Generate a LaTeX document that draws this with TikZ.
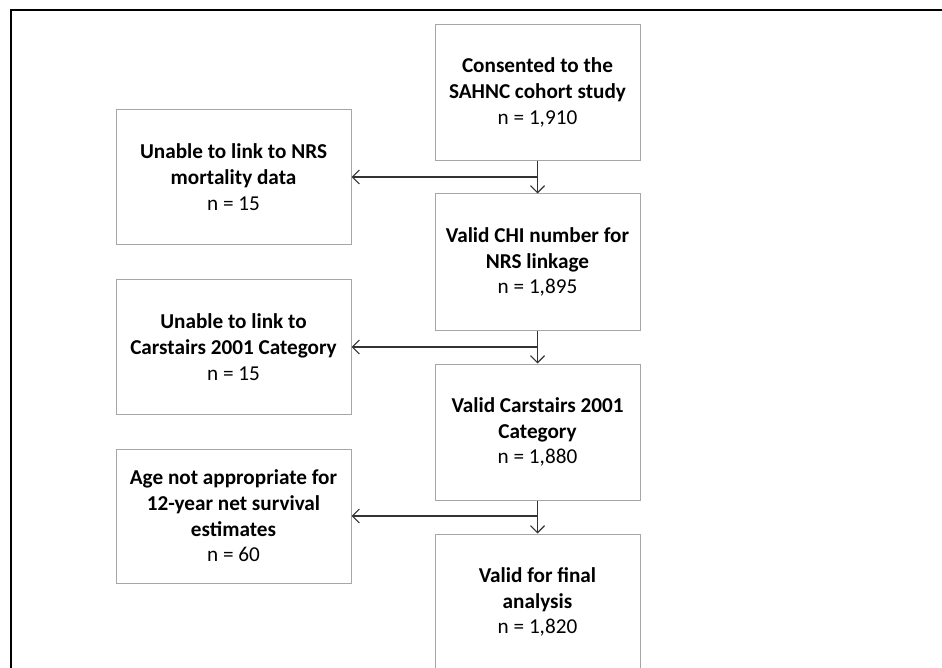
\documentclass[tikz,border=0pt]{standalone}
\usepackage{fontspec}
\setmainfont{Carlito}
\usetikzlibrary{arrows.meta}
\definecolor{boxgray}{HTML}{A6A6A6}
\definecolor{linegray}{HTML}{333333}
\tikzset{
  flowbox/.style={draw=boxgray, line width=1pt, rectangle, align=center,
    inner sep=0pt, font=\fontsize{21.2}{25.7}\selectfont},
  rbox/.style={flowbox, minimum width=205pt, minimum height=136pt},
  lbox/.style={flowbox, minimum width=235pt, minimum height=134pt},
  conn/.style={draw=linegray, line width=1.4pt},
  arr/.style={conn, -{Straight Barb[length=7pt,width=14pt,line width=1.2pt]}}
}
\begin{document}
\begin{tikzpicture}[x=1pt,y=-1pt]
\useasboundingbox (0,0) rectangle (942,668);
\clip (0,0) rectangle (942,668);
\fill[white] (0,0) rectangle (942,668);
\draw[line width=1.6pt, black] (11,700) -- (11,10) -- (960,10);

\node[rbox] (r1) at (537.5,92.5) {\textbf{Consented to the}\\\textbf{SAHNC cohort study}\\n = 1,910};
\node[rbox] (r2) at (537.5,262) {\textbf{Valid CHI number for}\\\textbf{NRS linkage}\\n = 1,895};
\node[rbox] (r3) at (537.5,432) {\textbf{Valid Carstairs 2001}\\\textbf{Category}\\n = 1,880};
\node[rbox] (r4) at (537.5,602) {\textbf{Valid for final}\\\textbf{analysis}\\n = 1,820};

\node[lbox, minimum height=135pt] (l1) at (233.5,177) {\textbf{Unable to link to NRS}\\\textbf{mortality data}\\n = 15};
\node[lbox] (l2) at (233.5,347) {\textbf{Unable to link to}\\\textbf{Carstairs 2001 Category}\\n = 15};
\node[lbox] (l3) at (233.5,516) {\textbf{Age not appropriate for}\\\textbf{12-year net survival}\\\textbf{estimates}\\n = 60};

\coordinate (j1) at (r1.south |- l1.east);
\coordinate (j2) at (r2.south |- l2.east);
\coordinate (j3) at (r3.south |- l3.east);

\draw[conn] (r1.south) -- (j1);
\draw[arr] (j1) -- (r2.north);
\draw[arr] (j1) -- (l1.east);
\draw[conn] (r2.south) -- (j2);
\draw[arr] (j2) -- (r3.north);
\draw[arr] (j2) -- (l2.east);
\draw[conn] (r3.south) -- (j3);
\draw[arr] (j3) -- (r4.north);
\draw[arr] (j3) -- (l3.east);
\end{tikzpicture}
\end{document}
